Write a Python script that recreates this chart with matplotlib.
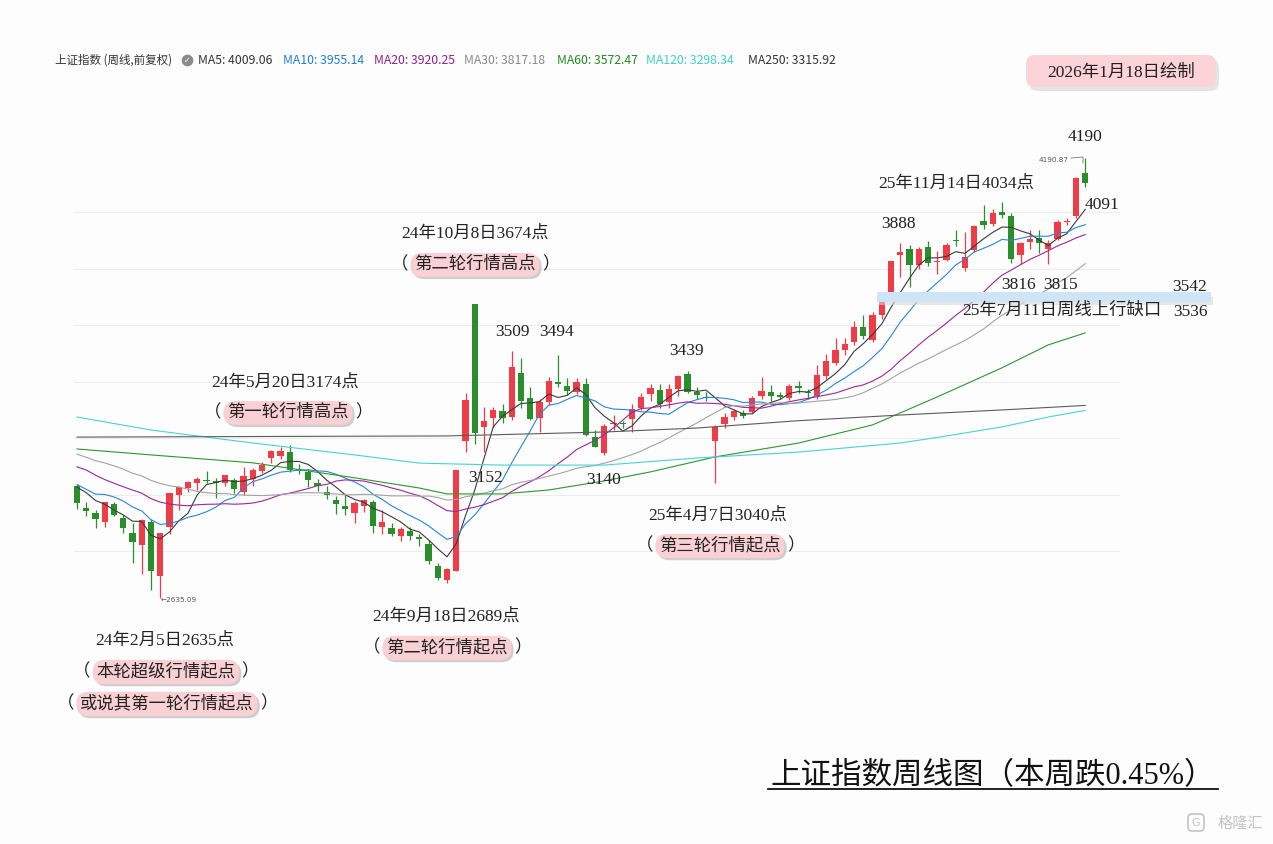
import matplotlib
matplotlib.use("Agg")
import matplotlib.pyplot as plt
import matplotlib.patheffects as pe
from matplotlib.patches import FancyBboxPatch, Rectangle
import numpy as np
import pandas as pd

# 周线 K 线数据 (2023-12-04 那周 到 2026-01-12 那周, 共110周)
opens = [3030, 2955, 2935, 2905, 2968, 2918, 2865, 2822, 2904, 2712,
         2886, 3000, 3024, 3042, 3052, 3048, 3042, 3052, 3010, 3056,
         3084, 3130, 3137, 3151, 3091, 3081, 3040, 3010, 2980, 2962,
         2935, 2960, 2975, 2886, 2883, 2855, 2872, 2850, 2826, 2748,
         2700, 2730, 3190, 3674.4, 3240, 3271, 3296, 3275, 3431, 3342,
         3271, 3328, 3399, 3385, 3364, 3392, 3204, 3148, 3250, 3255,
         3268, 3307, 3356, 3370, 3328, 3374, 3427, 3363, 3345, 3190,
         3250, 3275, 3289, 3292, 3349, 3363, 3352, 3342, 3385, 3363,
         3349, 3420, 3466, 3512, 3540, 3593, 3547, 3636, 3713, 3848,
         3869, 3812, 3876, 3823, 3830, 3900, 3802, 3865, 3968, 3957,
         3999, 3986, 3848, 3894, 3908, 3869, 3905, 3965, 3986, 4138]
highs = [3038, 2975, 2946, 2976, 2976, 2930, 2900, 2914, 2914, 2866,
         3006, 3032, 3050, 3063, 3084, 3060, 3070, 3060, 3098, 3096,
         3116, 3158, 3170, 3174.3, 3108, 3090, 3055, 3030, 2995, 2999,
         2978, 2985, 2982, 2946, 2900, 2885, 2885, 2860, 2840, 2760,
         2740, 3087.8, 3358.6, 3674.4, 3310, 3312, 3322, 3509.8, 3484, 3380,
         3340, 3415, 3494.9, 3412, 3413, 3413, 3230, 3250, 3282, 3262,
         3320, 3360, 3390, 3390, 3391, 3424, 3439, 3380, 3365, 3248,
         3290, 3305, 3300, 3351, 3417, 3388, 3362, 3390, 3404, 3375,
         3459, 3497, 3554, 3554, 3613, 3636, 3645, 3706, 3826, 3888.6,
         3883, 3875, 3899, 3862, 3890, 3936, 3929, 3955, 4025, 4010,
         4034, 3995, 3895, 3936, 3936, 3900, 3970, 3980, 4125, 4190.87]
lows = [2950, 2925, 2882, 2887, 2924, 2865, 2760, 2720, 2664, 2635.09,
        2860, 2945, 3010, 3017, 3040, 2990, 3030, 3008, 2999, 3030,
        3078, 3112, 3128, 3080, 3075, 3027, 3015, 2985, 2933, 2930,
        2900, 2940, 2865, 2860, 2855, 2836, 2840, 2819, 2757, 2698,
        2689.7, 2730, 3152, 3180, 3152, 3240, 3254, 3263, 3307, 3263,
        3222, 3317, 3380, 3354, 3356, 3207, 3168, 3140.98, 3230, 3237,
        3222, 3300, 3330, 3308, 3307, 3350, 3360, 3340, 3330, 3040.69,
        3235, 3265, 3270, 3290, 3340, 3330, 3340, 3335, 3360, 3340,
        3340, 3410, 3460, 3496, 3530, 3550, 3540, 3620, 3705, 3770,
        3735, 3800, 3810, 3782, 3828, 3880, 3790, 3860, 3940, 3950,
        3980, 3820, 3816, 3870, 3855, 3815, 3900, 3955, 3980, 4090]
closes = [2969.6, 2942.6, 2914.8, 2974.9, 2929.2, 2882.0, 2832.3, 2910.2, 2730.2, 2865.9,
          3004.9, 3027.0, 3046.0, 3054.6, 3048.0, 3041.2, 3069.3, 3019.5, 3065.3, 3088.6,
          3104.8, 3154.6, 3154.0, 3088.9, 3086.8, 3051.3, 3032.6, 2998.1, 2967.4, 2949.9,
          2971.3, 2982.3, 2890.9, 2905.3, 2862.2, 2879.4, 2854.4, 2842.2, 2765.8, 2704.1,
          2736.8, 3087.5, 3336.5, 3217.7, 3261.6, 3299.7, 3272.0, 3452.3, 3330.7, 3267.2,
          3326.5, 3404.1, 3391.9, 3368.1, 3400.1, 3211.4, 3168.5, 3241.8, 3252.6, 3250.6,
          3303.7, 3346.7, 3379.1, 3320.9, 3372.6, 3419.6, 3364.8, 3351.3, 3342.0, 3238.2,
          3276.7, 3295.1, 3279.0, 3342.0, 3367.5, 3348.4, 3347.5, 3385.4, 3377.0, 3359.9,
          3424.2, 3472.3, 3510.2, 3534.5, 3593.7, 3560.0, 3635.1, 3696.8, 3825.8, 3857.9,
          3812.5, 3870.6, 3820.1, 3828.1, 3882.8, 3897.0, 3839.8, 3950.3, 3954.8, 3997.6,
          3990.5, 3834.9, 3888.6, 3902.8, 3889.4, 3890.5, 3963.7, 3968.8, 4120.4, 4101.9]

# 窗口之前的周收盘 (用于计算短期均线)
pre_closes = [3272, 3283, 3212, 3230, 3231, 3273, 3197, 3202, 3197, 3237,
              3167, 3276, 3288, 3189, 3131, 3064, 3133, 3116, 3117, 3132,
              3110, 3088, 2983, 3017, 3030, 3038, 3054, 3041, 3031]

# 长期均线
ma60_idx = [0, 8, 19, 30, 37, 40, 46, 51, 57, 62, 69, 78, 86, 93, 100, 105, 109]
ma60_val = [3162, 3141, 3113, 3060, 3024, 3003, 3003, 3017, 3049, 3081, 3134, 3183, 3247, 3346, 3449, 3530, 3572.5]
ma120_idx = [0, 8, 19, 30, 37, 46, 57, 67, 78, 89, 94, 100, 105, 109]
ma120_val = [3275, 3229, 3183, 3141, 3112, 3105, 3105, 3130, 3151, 3183, 3208, 3240, 3275, 3298.3]
ma250_idx = [0, 19, 40, 57, 67, 78, 89, 100, 109]
ma250_val = [3204, 3206, 3208, 3222, 3236, 3262, 3282, 3300, 3315.9]

legend_items = ["MA5: 4009.06", "MA10: 3955.14", "MA20: 3920.25", "MA30: 3817.18",
                "MA60: 3572.47", "MA120: 3298.34", "MA250: 3315.92"]
legend_x = [198, 283, 374, 464, 557, 646, 748]
ma_colors = ['#3a3a3a', '#2a86d4', '#9b289b', '#a3a3a3', '#2f962f', '#4ad2d2', '#5c5c5c']
legend_colors = ['#333333', '#1f7fcf', '#8e1f8e', '#8a8a8a', '#1f8a1f', '#3ccfcf', '#333333']

plt.rcParams['font.family'] = ['Liberation Serif', 'Noto Sans CJK SC', 'DejaVu Sans']

W, H = 1273, 844
X0, DX = 77.0, 9.25          # 第0根K线的像素位置, 每周像素
Y0, P0, PPX = 158.0, 4190.87, 3.536

fig = plt.figure(figsize=(12.73, 8.44), dpi=100)
fig.patch.set_facecolor('#fdfdfd')
ax = fig.add_axes([0, 0, 1, 1])
ax.set_xlim(-X0 / DX, (W - X0) / DX)
ax.set_ylim(P0 - (H - Y0) * PPX, P0 + Y0 * PPX)
ax.axis('off')

# 网格
ax.hlines(range(2800, 4001, 200), -0.3, 112.7, color='#ececec', lw=0.8, zorder=0)

idx = np.arange(len(closes))
up_c, dn_c = '#f03c46', '#2a8f2a'
for i in idx:
    o, h, l, c = opens[i], highs[i], lows[i], closes[i]
    col = up_c if c >= o else dn_c
    ax.vlines(i, l, h, color=col, lw=0.9, zorder=2)
    ax.bar(i, max(abs(c - o), 1.5), bottom=min(o, c), width=0.66, color=col, zorder=2)

s = pd.Series(pre_closes + closes)
n_pre = len(pre_closes)
for win, col in zip([5, 10, 20, 30], ma_colors[:4]):
    ma = s.rolling(win).mean().iloc[n_pre:].to_numpy()
    ax.plot(idx, ma, color=col, lw=0.8, zorder=3)
ax.plot(ma60_idx, ma60_val, color=ma_colors[4], lw=0.8, zorder=3)
ax.plot(ma120_idx, ma120_val, color=ma_colors[5], lw=0.8, zorder=3)
ax.plot(ma250_idx, ma250_val, color=ma_colors[6], lw=0.8, zorder=3)

# 像素坐标的注释层
ov = fig.add_axes([0, 0, 1, 1], zorder=5)
ov.set_xlim(0, W)
ov.set_ylim(H, 0)
ov.axis('off')
ov.patch.set_alpha(0)

# 图例
ov.text(55, 60, "上证指数 (周线,前复权)", fontsize=8.3, color='#333333',
        family=['Noto Sans CJK SC'], va='center')
ov.scatter([187], [60], s=55, color='#8c8c8c', zorder=6)
ov.text(187, 60.5, "✓", fontsize=5.5, color='white', ha='center', va='center',
        family=['DejaVu Sans'], zorder=7)
for txt, x, c in zip(legend_items, legend_x, legend_colors):
    ov.text(x, 60, txt, fontsize=8.8, color=c, family=['Noto Sans CJK SC'], va='center')

# 右上角日期框
ov.add_patch(FancyBboxPatch((1029, 59), 190, 32, boxstyle='round,pad=0,rounding_size=9',
                            fc='#cccccc', ec='none', alpha=0.5))
ov.add_patch(FancyBboxPatch((1026, 55), 190, 32, boxstyle='round,pad=0,rounding_size=9',
                            fc='#fcd3d6', ec='none'))
ov.text(1121, 73, "2026年1月18日绘制", fontsize=12.5, color='#222222', ha='center', va='center')

# 缺口带
ov.add_patch(Rectangle((879, 297), 334, 8, fc='#d8d8d8', ec='none', alpha=0.6))
ov.add_patch(Rectangle((877, 292), 334, 10, fc='#cfe5f7', ec='none'))

plain = [("4190", 1085, 135), ("25年11月14日4034点", 956, 182), ("4091", 1102, 203),
         ("3888", 898, 222), ("24年10月8日3674点", 475, 232), ("3542", 1190, 285),
         ("3816", 1019, 283), ("3815", 1061, 283), ("25年7月11日周线上行缺口", 1062, 309),
         ("3536", 1190, 310), ("3509", 512, 330), ("3494", 557, 330), ("3439", 687, 349),
         ("24年5月20日3174点", 285, 381), ("3152", 486, 476), ("3140", 604, 478),
         ("25年4月7日3040点", 718, 514), ("24年9月18日2689点", 446, 615),
         ("24年2月5日2635点", 165, 639)]
for txt, x, y in plain:
    ov.text(x, y + 2, txt, fontsize=12.5, color='#222222', ha='center', va='center')

pink = [("第二轮行情高点", 475, 264), ("第一轮行情高点", 288, 412),
        ("第三轮行情起点", 720, 545), ("第二轮行情起点", 447, 647),
        ("本轮超级行情起点", 166, 671), ("或说其第一轮行情起点", 167, 703)]
for txt, x, y in pink:
    t = ov.text(x, y + 1, txt, fontsize=12.5, color='#222222', ha='center', va='center',
                bbox=dict(boxstyle='round,pad=0.22,rounding_size=0.7', fc='#f9d0d3', ec='none'))
    t.get_bbox_patch().set_path_effects([
        pe.SimplePatchShadow(offset=(1.5, -1.5), shadow_rgbFace='#b0b0b0', alpha=0.6),
        pe.Normal()])
    half = len(txt) * 8.7 + 6
    ov.text(x - half, y + 1, "（", fontsize=12.5, color='#222222', ha='right', va='center')
    ov.text(x + half, y + 1, "）", fontsize=12.5, color='#222222', ha='left', va='center')

# 极值小标注
ov.text(161, 600, "←2635.09", fontsize=5.2, color='#555555', va='center', family=['DejaVu Sans'])
ov.text(1069, 160, "4190.87", fontsize=5.2, color='#555555', va='center', ha='right',
        family=['DejaVu Sans'])
ov.plot([1071, 1083, 1083], [158, 157, 163], color='#777777', lw=0.6)

# 标题
ov.text(993, 777, "上证指数周线图（本周跌0.45%）", fontsize=22, color='#111111',
        ha='center', va='center')
ov.plot([768, 1218], [789, 789], color='#111111', lw=1.3)

# 水印
ov.text(1240, 823, "格隆汇", fontsize=11, color='#c4c4c4', ha='center', va='center',
        family=['Noto Sans CJK SC'])
ov.add_patch(FancyBboxPatch((1188, 814), 16, 17, boxstyle='round,pad=0,rounding_size=4',
                            fc='none', ec='#c4c4c4', lw=1.2))
ov.text(1196, 822.5, "G", fontsize=8, color='#c4c4c4', ha='center', va='center',
        family=['DejaVu Sans'])

fig.savefig("out.png", dpi=100, facecolor=fig.get_facecolor())
